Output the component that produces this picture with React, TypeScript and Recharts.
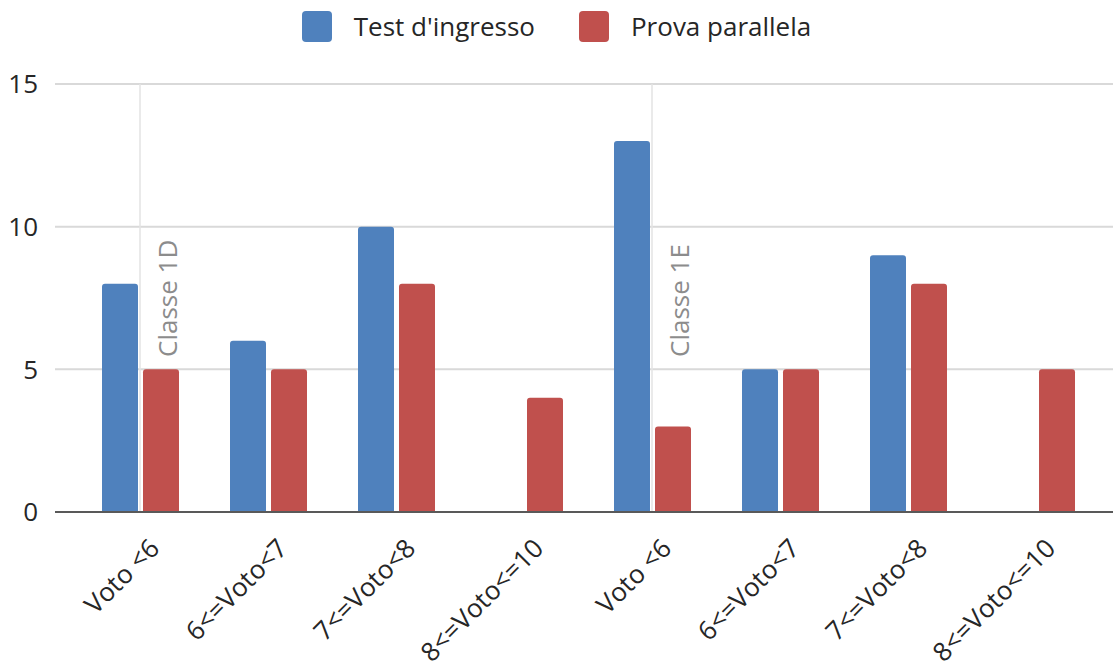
import React from 'react';
import { BarChart, Bar, XAxis, YAxis, CartesianGrid, ReferenceLine } from 'recharts';

// two classes, same four grade bands each
const classes = ['Classe 1D', 'Classe 1E'];
const bands = ['Voto <6', '6<=Voto<7', '7<=Voto<8', '8<=Voto<=10'];
const testIngresso = [8, 6, 10, 0, 13, 5, 9, 0];
const provaParallela = [5, 5, 8, 4, 3, 5, 8, 5];
const yTicks = [0, 5, 10, 15];

const series = [
  { key: 'test', label: "Test d'ingresso", color: '#4F81BD' },
  { key: 'prova', label: 'Prova parallela', color: '#C0504D' },
];

const data = classes.flatMap((cls, ci) =>
  bands.map((band, bi) => {
    const i = ci * bands.length + bi;
    return { id: `${cls}|${band}`, band, test: testIngresso[i], prova: provaParallela[i] };
  })
);

const FONT = '"Open Sans", "Noto Sans", sans-serif';

const XTick = (props: any) => {
  const { x, y, payload } = props;
  const label = String(payload.value).split('|')[1];
  return (
    <text
      transform={`translate(${x + 21},${y + 38}) rotate(-45)`}
      textAnchor="end"
      fontSize={26}
      fontFamily={FONT}
      fill="#262626"
    >
      {label}
    </text>
  );
};

const ClassLabel = (props: any) => {
  const { viewBox, value } = props;
  if (!viewBox) return null;
  const { x, y, height } = viewBox;
  return (
    <text
      transform={`translate(${x + 37},${y + height - 155}) rotate(-90)`}
      fontSize={26}
      fontFamily={FONT}
      fill="#8c8c8c"
    >
      {value}
    </text>
  );
};

export default function App() {
  return (
    <div style={{ position: 'absolute', left: 0, top: 0, width: 1113, height: 671, background: '#fff', fontFamily: FONT }}>
      <div style={{ position: 'absolute', top: 11, left: 0, width: 1113, display: 'flex', justifyContent: 'center', gap: 44 }}>
        {series.map(s => (
          <div key={s.key} style={{ display: 'flex', alignItems: 'center', gap: 22, height: 31 }}>
            <span style={{ display: 'inline-block', width: 30, height: 31, borderRadius: 4, background: s.color }} />
            <span style={{ fontSize: 26, color: '#262626', lineHeight: '31px' }}>{s.label}</span>
          </div>
        ))}
      </div>
      <BarChart
        width={1113}
        height={671}
        data={data}
        margin={{ top: 84, right: 0, left: 0, bottom: 129 }}
        barSize={36}
        barGap={5}
      >
        <CartesianGrid vertical={false} stroke="#d9d9d9" strokeWidth={2} />
        <XAxis
          dataKey="id"
          height={30}
          interval={0}
          axisLine={false}
          tickLine={false}
          tickSize={0}
          tickMargin={0}
          padding={{ left: 21, right: 13 }}
          tick={<XTick />}
        />
        <YAxis
          width={55}
          domain={[0, 15]}
          ticks={yTicks}
          axisLine={false}
          tickLine={false}
          tickSize={0}
          tickMargin={17}
          tick={{ fontSize: 26, fill: '#262626', fontFamily: FONT }}
        />
        {classes.map((cls, ci) => (
          <ReferenceLine
            key={cls}
            x={data[ci * bands.length].id}
            stroke="#e3e3e3"
            strokeWidth={1.5}
            label={<ClassLabel value={cls} />}
          />
        ))}
        {series.map(s => (
          <Bar key={s.key} dataKey={s.key} fill={s.color} radius={[3, 3, 0, 0]} isAnimationActive={false} />
        ))}
        <ReferenceLine y={0} stroke="#595959" strokeWidth={2} />
      </BarChart>
    </div>
  );
}
